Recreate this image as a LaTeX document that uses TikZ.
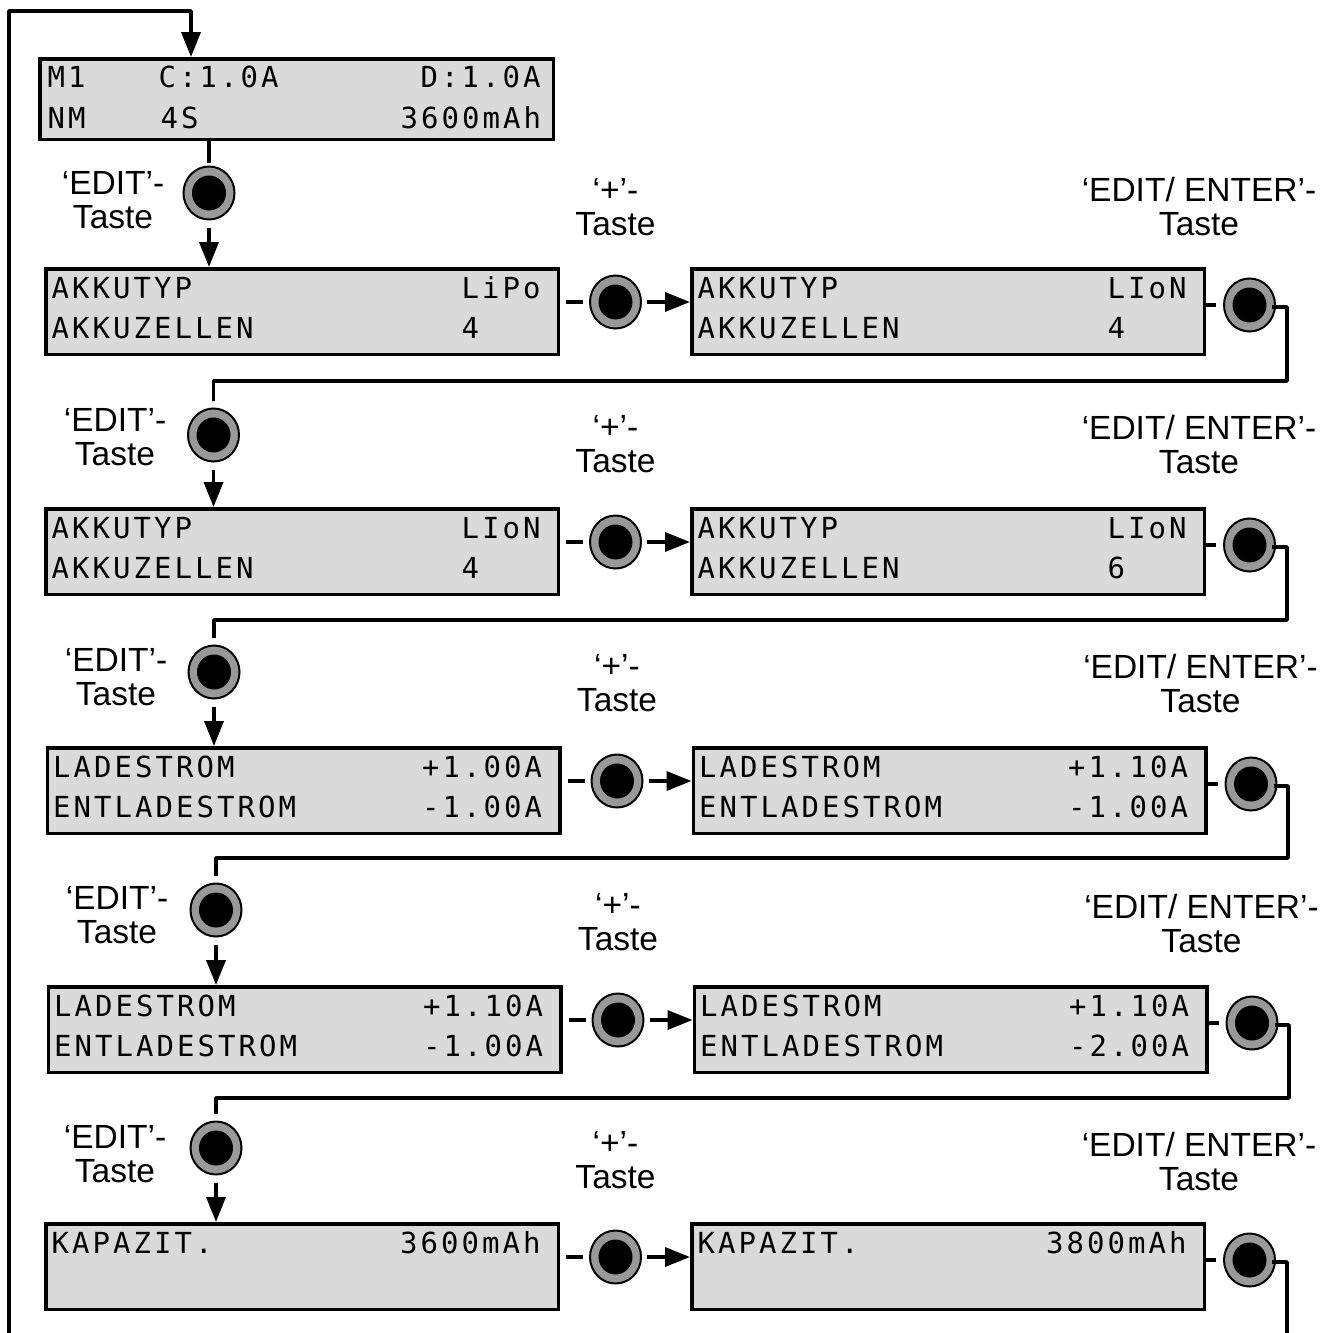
\documentclass[tikz,border=0pt]{standalone}
\usepackage{fontspec}
\setmainfont{Liberation Sans}
\newfontfamily\lcdfont{DejaVu Sans Mono}
\usetikzlibrary{arrows.meta,shapes.geometric,calc}

\definecolor{lcdgray}{gray}{0.855}
\definecolor{ringgray}{gray}{0.6}

% one LCD character cell per glyph
\ExplSyntaxOn
\NewDocumentCommand\lcd{m}{\tl_map_inline:nn{#1}{\makebox[20.5pt][c]{##1}}}
\ExplSyntaxOff

\tikzset{
  display/.style={rectangle, draw=black, fill=lcdgray, line width=3.5pt,
    inner sep=0pt, anchor=north west, minimum width=512.5pt, minimum height=85.5pt},
  lcdtext/.style={anchor=base west, inner sep=0pt, font=\lcdfont\fontsize{29}{29}\selectfont},
  key/.style={ellipse, draw=black, line width=2pt, fill=ringgray,
    minimum width=51pt, minimum height=53pt, inner sep=0pt,
    path picture={\fill[black] (path picture bounding box.center) ellipse[x radius=17pt, y radius=17.5pt];}},
  keylabel/.style={anchor=base, inner sep=0pt, font=\fontsize{33.5}{34}\selectfont},
  wire/.style={line width=3.5pt, line join=round},
  flow/.style={wire, -{Triangle[length=25pt,width=19pt]}},
}

% two-line key caption, first baseline at the node position
\newcommand\keytext[1]{\begin{tabular}[t]{@{}c@{}}#1\\Taste\end{tabular}}

% one text line of a display: left text and right text at a column
\newcommand\lcdrow[6]{%
  \node[lcdtext] (#1#2l) at ($(#1.north west)+(6,#3)$) {\lcd{#4}};
  \node[lcdtext] (#1#2r) at ($(#1.north west)+(6+20.5*#5,#3)$) {\lcd{#6}};
}

% one stage: EDIT key, display, '+' key, display, EDIT/ENTER key
\newcommand\stage[9]{%
  \node[display] (L#1) at (44+#3,#2) {};
  \node[display] (R#1) at (690+#3,#2) {};
  \node[key] (edit#1) at (#4,#5) {};
  \node[key] (plus#1) at (615.5+#3,#2+35) {};
  \node[key] (enter#1) at (1249.5+#3,#2+38) {};
  \node[keylabel] (editlab#1) at (#6,#7) {\keytext{‘EDIT’-}};
  \node[keylabel] (pluslab#1) at (615.5+#3,#8) {\keytext{‘+’-}};
  \node[keylabel] (enterlab#1) at (1199+#3,#9) {\keytext{‘EDIT/ ENTER’-}};
  \draw[flow] ([yshift=-7pt]edit#1.south) -- (edit#1 |- L#1.north);
  \draw[wire] ($(L#1.east |- plus#1)+(6,0)$) -- ([xshift=-6pt]plus#1.west);
  \draw[flow] ([xshift=5pt]plus#1.east) -- (plus#1 -| R#1.west);
  \draw[wire] (R#1.east |- enter#1) -- ([xshift=-7pt]enter#1.west);
}

\begin{document}
\begin{tikzpicture}[x=1pt,y=-1pt]
  \useasboundingbox (0,0) rectangle (1325,1333);

  % start screen
  \node[display, minimum width=513.5pt, minimum height=80.5pt] (D) at (38,57) {};
  \node[lcdtext] (Dm) at ($(D.north west)+(8,30)$) {\lcd{M1}};
  \node[lcdtext] (Dc) at ($(D.north west)+(119,30)$) {\lcd{C:1.0A}};
  \node[lcdtext] (Dd) at ($(D.north west)+(381,30)$) {\lcd{D:1.0A}};
  \node[lcdtext] (Dn) at ($(D.north west)+(8,71)$) {\lcd{NM}};
  \node[lcdtext] (Ds) at ($(D.north west)+(121,71)$) {\lcd{4S}};
  \node[lcdtext] (Dk) at ($(D.north west)+(361,71)$) {\lcd{3600mAh}};

  \stage{1}{267}{0}{209}{193}{113}{194}{201}{201}
  \stage{2}{507}{0}{213.5}{435}{115}{431}{438}{439}
  \stage{3}{746}{1.5}{214}{672}{116}{671}{677}{678}
  \stage{4}{985}{2.5}{216}{910}{117}{909}{916}{918}
  \stage{5}{1222}{0}{216}{1148}{115}{1148}{1154}{1156}

  % display contents
  \lcdrow{L1}{a}{31}{AKKUTYP}{20}{LiPo}
  \lcdrow{L1}{b}{71}{AKKUZELLEN}{20}{4}
  \lcdrow{R1}{a}{31}{AKKUTYP}{20}{LIoN}
  \lcdrow{R1}{b}{71}{AKKUZELLEN}{20}{4}
  \lcdrow{L2}{a}{31}{AKKUTYP}{20}{LIoN}
  \lcdrow{L2}{b}{71}{AKKUZELLEN}{20}{4}
  \lcdrow{R2}{a}{31}{AKKUTYP}{20}{LIoN}
  \lcdrow{R2}{b}{71}{AKKUZELLEN}{20}{6}
  \lcdrow{L3}{a}{31}{LADESTROM}{18}{+1.00A}
  \lcdrow{L3}{b}{71}{ENTLADESTROM}{18}{-1.00A}
  \lcdrow{R3}{a}{31}{LADESTROM}{18}{+1.10A}
  \lcdrow{R3}{b}{71}{ENTLADESTROM}{18}{-1.00A}
  \lcdrow{L4}{a}{31}{LADESTROM}{18}{+1.10A}
  \lcdrow{L4}{b}{71}{ENTLADESTROM}{18}{-1.00A}
  \lcdrow{R4}{a}{31}{LADESTROM}{18}{+1.10A}
  \lcdrow{R4}{b}{71}{ENTLADESTROM}{18}{-2.00A}
  \lcdrow{L5}{a}{31}{KAPAZIT.}{17}{3600mAh}
  \lcdrow{R5}{a}{31}{KAPAZIT.}{17}{3800mAh}

  % start screen to first EDIT key
  \draw[wire] (edit1 |- D.south) -- ([yshift=3pt]edit1.north);

  % ENTER of one stage leads to EDIT of the next
  \coordinate (turn1) at (1287,381);
  \coordinate (turn2) at (1287,620);
  \coordinate (turn3) at (1288,858);
  \coordinate (turn4) at (1289,1098);
  \draw[wire] ([xshift=-4pt,yshift=-2pt]enter1.east) -| (turn1) -| ([yshift=7pt]edit2.north);
  \draw[wire] ([xshift=-4pt,yshift=-2pt]enter2.east) -| (turn2) -| ([yshift=7pt]edit3.north);
  \draw[wire] ([xshift=-4pt,yshift=-2pt]enter3.east) -| (turn3) -| ([yshift=7pt]edit4.north);
  \draw[wire] ([xshift=-4pt,yshift=-2pt]enter4.east) -| (turn4) -| ([yshift=7pt]edit5.north);

  % last ENTER leaves downwards, return loop into the start screen
  \coordinate (exit) at (1287,1340);
  \draw[wire] ([xshift=-4pt,yshift=-2pt]enter5.east) -| (exit);
  \coordinate (loopin) at (9,1340);
  \coordinate (looptop) at (191,11);
  \draw[flow] (loopin) |- (looptop) -- (looptop |- D.north);
\end{tikzpicture}
\end{document}
